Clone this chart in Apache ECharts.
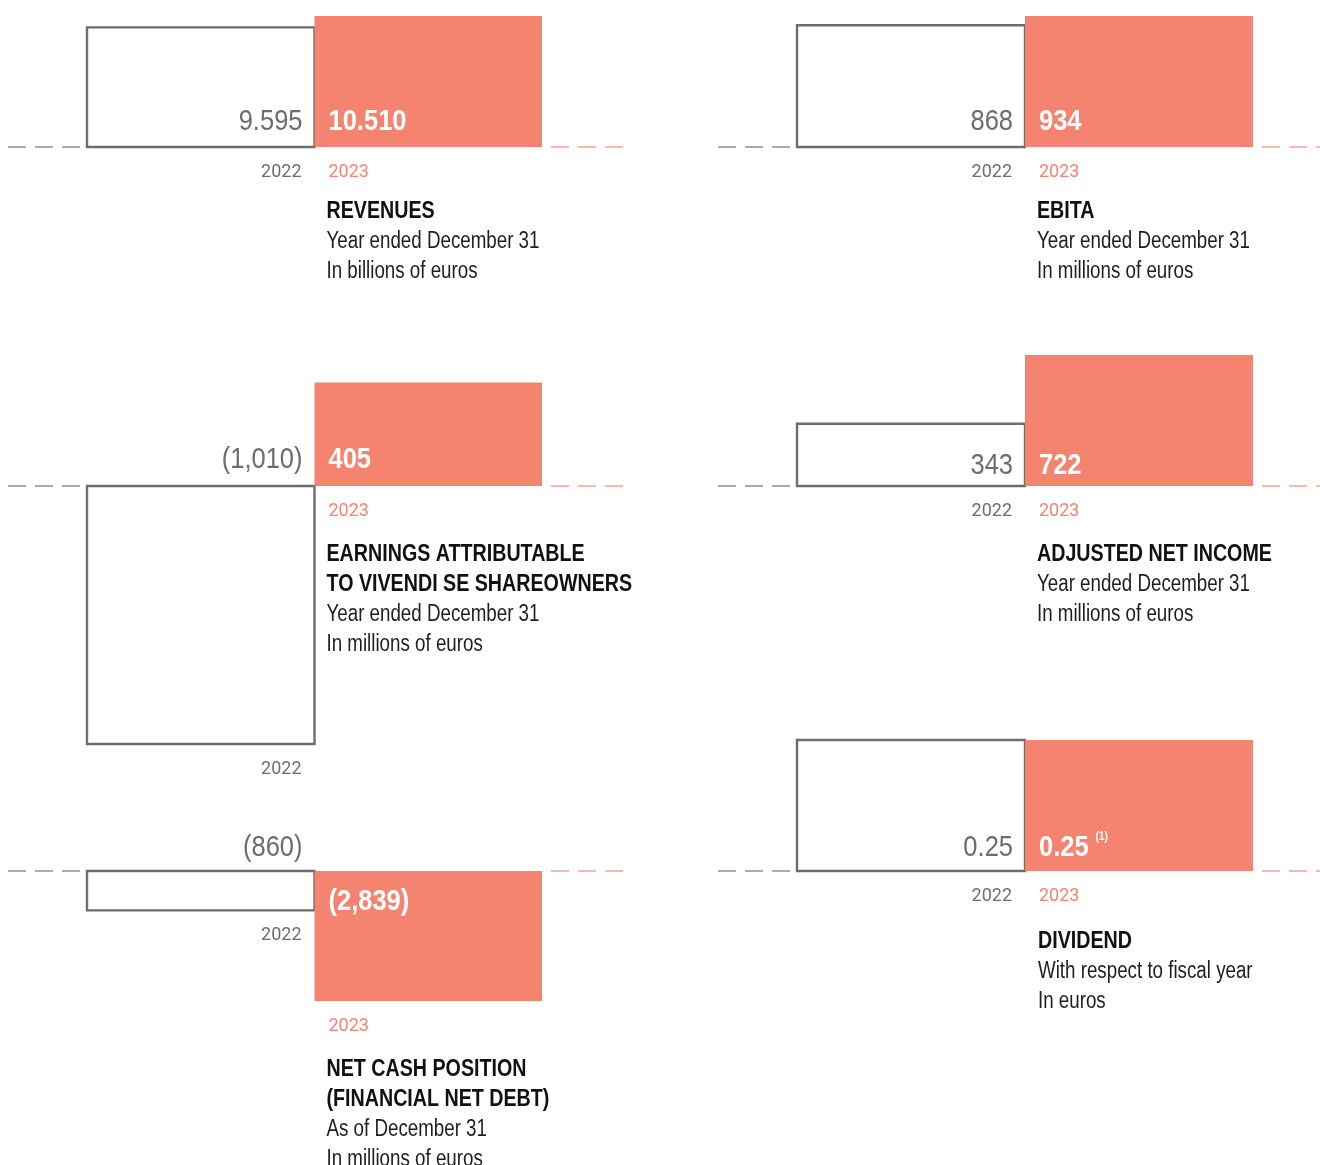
<!DOCTYPE html>
<html>
<head>
<meta charset="utf-8">
<script src="https://cdn.jsdelivr.net/npm/echarts@6/dist/echarts.min.js"></script>
<style>
  html, body { margin: 0; padding: 0; background: #ffffff; }
  #chart { width: 1320px; height: 1165px; }
</style>
</head>
<body>
<div id="chart"></div>
<script>
// ---- data -------------------------------------------------------------
const years = ['2022', '2023'];
const panelTitles = [
  'REVENUES',
  'EBITA',
  'EARNINGS ATTRIBUTABLE\nTO VIVENDI SE SHAREOWNERS',
  'ADJUSTED NET INCOME',
  'NET CASH POSITION\n(FINANCIAL NET DEBT)',
  'DIVIDEND'
];
const panelNotes = [
  'Year ended December 31\nIn billions of euros',
  'Year ended December 31\nIn millions of euros',
  'Year ended December 31\nIn millions of euros',
  'Year ended December 31\nIn millions of euros',
  'As of December 31\nIn millions of euros',
  'With respect to fiscal year\nIn euros'
];
const values2022 = [9.595, 868, -1010, 343, -860, 0.25];
const values2023 = [10.510, 934, 405, 722, -2839, 0.25];
const decimals = [3, 0, 0, 0, 0, 2];
const footnotes2023 = ['', '', '', '', '', '(1)'];

// ---- layout & style ---------------------------------------------------
// base: pixel row of the zero line; span: pixel length of the larger bar;
// lift: how far above the zero line the value labels sit
const panelLayout = [
  { left: 87,  width: 455, base: 147, span: 131, lift: 25, titleY: 210 },
  { left: 797, width: 456, base: 147, span: 131, lift: 25, titleY: 210 },
  { left: 87,  width: 455, base: 486, span: 258, lift: 26, titleY: 553 },
  { left: 797, width: 456, base: 486, span: 131, lift: 20, titleY: 553 },
  { left: 87,  width: 455, base: 871, span: 130, lift: 23, titleY: 1068 },
  { left: 797, width: 456, base: 871, span: 131, lift: 23, titleY: 940 }
];
const SALMON = '#F4846F';
const GREY = '#6d6d6d';
const DASH_GREY = '#8e8e8e';
const DASH_SALMON = '#F6A291';
// a regular sans squeezed horizontally gives the condensed look
const SANS = '"Liberation Sans", Arial, sans-serif';
const VALUE_SQUEEZE = 0.85;
const TITLE_SQUEEZE = 0.855;
const NOTE_SQUEEZE = 0.815;
const LINE_H = 30;
const YEAR_FONT = 'Roboto, "Noto Sans", sans-serif';

function fmt(v, d) {
  const s = Math.abs(v).toLocaleString('en-US', { minimumFractionDigits: d, maximumFractionDigits: d });
  return v < 0 ? '(' + s + ')' : s;
}

function makeRenderer(p) {
  const lift = panelLayout[p].lift;
  return function (params, api) {
    const i = api.value(0);
    const v = api.value(1);
    const is23 = i === 1;
    const p0 = api.coord([i, 0]);
    const p1 = api.coord([i, v]);
    const w = api.size([1, 0])[0];
    const xL = p0[0] - w / 2;
    const xR = p0[0] + w / 2;
    const base = p0[1];
    const yT = Math.min(p0[1], p1[1]);
    const yB = Math.max(p0[1], p1[1]);
    const children = [];

    // dashed zero line running out from each side of the pair
    children.push({
      type: 'line',
      shape: is23
        ? { x1: xR + 9, y1: base, x2: xR + 81, y2: base }
        : { x1: xL - 79, y1: base, x2: xL - 7, y2: base },
      style: { stroke: is23 ? DASH_SALMON : DASH_GREY, lineWidth: 1.6, lineDash: [18, 9] }
    });

    // the bar itself
    children.push({
      type: 'rect',
      shape: { x: xL, y: yT, width: w, height: yB - yT },
      style: is23 ? { fill: SALMON } : { fill: '#ffffff', stroke: GREY, lineWidth: 2.4 }
    });

    // value label
    const text = fmt(v, decimals[p]);
    if (is23) {
      const note = footnotes2023[p];
      children.push({
        type: 'text',
        x: xL + 14,
        y: v < 0 ? base + 31 : base - lift,
        scaleX: VALUE_SQUEEZE,
        style: {
          x: 0, y: 0,
          text: '{v|' + text + '}' + (note ? '{s|' + note + '}' : ''),
          align: 'left',
          verticalAlign: 'middle',
          rich: {
            v: { fontFamily: SANS, fontSize: 30, fontWeight: 'bold', fill: '#ffffff', lineHeight: 34 },
            s: { fontFamily: SANS, fontSize: 12, fontWeight: 'bold', fill: '#ffffff', lineHeight: 26,
                 verticalAlign: 'top', padding: [0, 0, 0, 8] }
          }
        }
      });
    } else {
      children.push({
        type: 'text',
        x: xR - 12,
        y: base - lift,
        scaleX: VALUE_SQUEEZE,
        style: {
          x: 0, y: 0,
          text: text,
          align: 'right',
          verticalAlign: 'middle',
          fontFamily: SANS, fontSize: 30, fill: GREY
        }
      });
    }

    // year label under the bar
    children.push({
      type: 'text',
      style: {
        x: is23 ? xL + 14 : xR - 13,
        y: yB + 25,
        text: years[i],
        align: is23 ? 'left' : 'right',
        verticalAlign: 'middle',
        fontFamily: YEAR_FONT, fontSize: 18, fill: is23 ? SALMON : GREY
      }
    });

    return { type: 'group', children: children };
  };
}

const grids = [], xAxes = [], yAxes = [], series = [], graphics = [];
panelLayout.forEach(function (L, p) {
  const vals = [values2022[p], values2023[p]];
  const maxAbs = Math.max(Math.abs(vals[0]), Math.abs(vals[1]));
  const k = L.span / maxAbs;
  const yMax = Math.max(0, vals[0], vals[1]);
  const yMin = Math.min(0, vals[0], vals[1]);
  grids.push({
    left: L.left, width: L.width,
    top: L.base - yMax * k, height: (yMax - yMin) * k,
    outerBoundsMode: 'none'
  });
  xAxes.push({ type: 'category', gridIndex: p, data: years, show: false, boundaryGap: true });
  yAxes.push({ type: 'value', gridIndex: p, min: yMin, max: yMax, show: false });
  series.push({
    type: 'custom',
    xAxisIndex: p, yAxisIndex: p,
    clip: false,
    silent: true,
    data: [[years[0], vals[0]], [years[1], vals[1]]],
    renderItem: makeRenderer(p)
  });

  // caption block beside the 2023 bar: bold heading, then plain notes
  const capX = L.left + L.width / 2 + 12 + (p === 5 ? 1 : 0);
  const titleLines = panelTitles[p].split('\n');
  const top = L.titleY - LINE_H / 2 + 2;
  graphics.push({
    type: 'text',
    x: capX, y: top,
    scaleX: TITLE_SQUEEZE,
    silent: true,
    style: {
      x: 0, y: 0,
      text: panelTitles[p],
      fontFamily: SANS, fontSize: 23, fontWeight: 'bold', fill: '#111111', lineHeight: LINE_H
    }
  });
  graphics.push({
    type: 'text',
    x: capX, y: top + titleLines.length * LINE_H,
    scaleX: NOTE_SQUEEZE,
    silent: true,
    style: {
      x: 0, y: 0,
      text: panelNotes[p],
      fontFamily: SANS, fontSize: 23, fill: '#1e1e1e', lineHeight: LINE_H
    }
  });
});

const chart = echarts.init(document.getElementById('chart'), null, { renderer: 'canvas' });
chart.setOption({
  backgroundColor: '#ffffff',
  animation: false,
  grid: grids,
  xAxis: xAxes,
  yAxis: yAxes,
  series: series,
  graphic: graphics
});
</script>
</body>
</html>
